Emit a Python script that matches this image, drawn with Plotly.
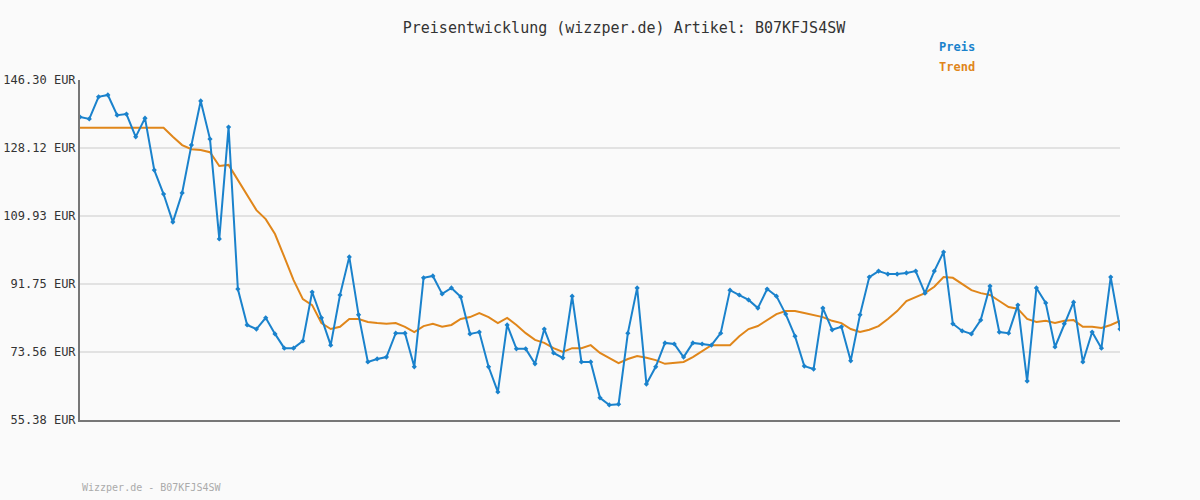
import plotly.graph_objects as go

preis = [136.4,135.9,141.8,142.3,136.9,137.2,131.1,136.1,122.2,115.8,108.3,116.1,128.9,140.7,130.5,103.8,133.7,90.4,80.8,79.7,82.7,78.4,74.6,74.6,76.5,89.6,82.7,75.4,88.8,99.0,
         83.5,70.9,71.7,72.2,78.6,78.6,69.6,93.4,93.9,89.1,90.7,88.3,78.4,78.9,69.6,62.9,80.8,74.4,74.4,70.4,79.7,73.3,72.0,88.5,70.9,70.9,61.3,59.4,59.6,78.6,90.7,
         65.0,69.6,76.0,75.7,72.2,76.0,75.7,75.4,78.6,90.1,88.8,87.5,85.3,90.4,88.5,83.7,77.8,69.8,69.0,85.3,79.5,80.3,71.2,83.5,93.6,95.2,94.4,
         94.4,94.7,95.2,89.3,95.2,100.3,81.1,79.2,78.4,82.1,91.2,78.9,78.6,86.1,65.8,90.7,86.7,74.9,81.1,86.9,70.9,78.9,74.6,93.6,79.7]
trend = [133.5]*10 + [131.1,128.9,127.8,127.6,127.0,123.3,123.6,119.6,115.5,111.5,109.1,105.1,99.0,92.8,87.7,86.1,81.3,79.7,80.3,82.4,
         82.4,81.6,81.3,81.1,81.3,80.3,78.9,80.5,81.1,80.3,80.8,82.4,82.9,84.0,82.9,81.3,82.7,80.8,78.6,76.8,76.0,74.6,73.6,74.6,74.6,75.4,73.3,72.0,70.6,71.7,72.5,
         72.0,71.4,70.4,70.6,70.9,72.2,73.8,75.4,75.4,75.4,77.8,79.7,80.5,82.1,83.7,84.5,84.5,84.0,83.5,82.9,81.9,81.3,79.7,78.9,79.5,80.5,82.4,
         84.5,87.2,88.3,89.3,91.0,93.6,93.4,91.7,90.1,89.3,88.8,87.2,85.6,85.1,82.4,81.6,81.9,81.3,81.9,82.1,80.3,80.3,80.0,80.8,81.9]
ticks = [55.38, 73.56, 91.75, 109.93, 128.12, 146.30]
tick_labels = [f"{t:.2f} EUR" for t in ticks]
x = list(range(len(preis)))

BLUE = "#1a82cc"
ORANGE = "#e0861a"
FONT = "DejaVu Sans Mono"

fig = go.Figure()
fig.add_trace(go.Scatter(x=x, y=trend, mode="lines", line=dict(color=ORANGE, width=2), name="Trend"))
fig.add_trace(go.Scatter(x=x, y=preis, mode="lines+markers", line=dict(color=BLUE, width=2),
                         marker=dict(symbol="diamond", size=4, color=BLUE), name="Preis"))
fig.update_layout(
    width=1200, height=500, paper_bgcolor="#fafafa", plot_bgcolor="#fafafa",
    margin=dict(l=80, r=80, t=80, b=80, autoexpand=False), showlegend=False,
    font=dict(family=FONT, size=12, color="#333"),
    title=dict(text="Preisentwicklung (wizzper.de) Artikel: B07KFJS4SW", x=0.52, xanchor="center", y=0.944, yanchor="middle",
               font=dict(family=FONT, size=15, color="#333")),
    xaxis=dict(range=[0, len(preis) - 1], showticklabels=False, showgrid=False, zeroline=False, automargin=False,
               showline=True, linecolor="#777", linewidth=2),
    yaxis=dict(range=[ticks[0], ticks[-1]], tickvals=ticks, ticktext=tick_labels, showgrid=True, gridcolor="#e2e2e2",
               gridwidth=2, zeroline=False, showline=True, linecolor="#777", linewidth=2, ticks="", automargin=False,
               tickfont=dict(family=FONT, size=12, color="#333")),
    annotations=[
        dict(text="<b>Preis</b>", x=957, y=47, font=dict(color=BLUE, size=12, family=FONT)),
        dict(text="<b>Trend</b>", x=957, y=67, font=dict(color=ORANGE, size=12, family=FONT)),
        dict(text="Wizzper.de - B07KFJS4SW", x=80, y=487, xanchor="left", font=dict(color="#aaa", size=10, family=FONT)),
    ],
)
for a in fig.layout.annotations:
    a.x = (a.x - 80) / 1040
    a.y = (420 - a.y) / 340
    a.xref = "paper"
    a.yref = "paper"
    a.showarrow = False
    a.yanchor = "middle"
    if a.xanchor is None:
        a.xanchor = "center"
fig.write_html("out.html", config={"displayModeBar": False},
               post_script="document.body.style.margin='0';document.body.style.background='#fafafa';")
